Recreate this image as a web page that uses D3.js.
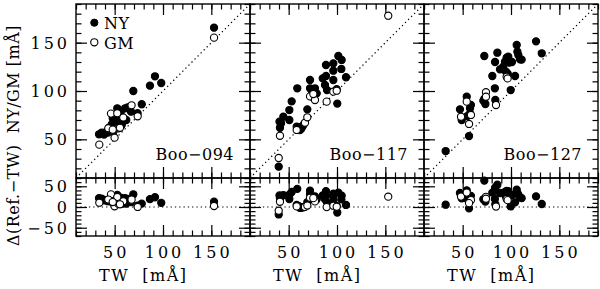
<html>
<script src='https://d3js.org/d3.v7.min.js'></script>
<style>
body {margin:0; background:#fff;}
text {font-family:'DejaVu Serif', serif; fill:#000;}
.num {font-size:16px; letter-spacing:3px;}
.lab {font-size:16px; letter-spacing:0.5px;}
.tw {font-size:16px; letter-spacing:1.5px;}
.tick line {stroke:#000; stroke-width:1.2;}
</style>
<body>
<svg width=600 height=289></svg>
<script>
// Boo-094
var tw094NY  = [33.8,36.5,39,41,43,45.2,48.6,52.7,48,50.3,53.8,55.5,57.3,60.7,63.4,56.2,69.3,66.9,78,73.7,86.5,91.7,98.2,52.1,47.1,44,58,62,152.8];
var ref094NY = [55.2,56.9,55,57.6,57,59,58,82.1,71.7,66.6,70,75.2,64.8,82.1,83,78.6,100,78.6,86.3,77,105.5,115.2,108.3,63.1,65.8,62,68,70,165.5];
var tw094GM  = [34.1,49.9,46.2,67.5,73.8,58.9,43.4,53.8,55.5,52.7,48,152.8];
var ref094GM = [44.5,51.7,76.6,85.2,73.9,72.6,61.4,61.4,62,77,60,155.2];
// Boo-117
var tw117NY  = [39.7,41,42.1,40.5,44.5,50.7,53.1,58.9,50.7,58.3,60.5,63,64.5,66,61.5,69.3,72.1,72.1,77.2,73.4,74,79,85.2,88.6,88.6,87.6,89.7,96.2,96.2,96.2,99.7,100.3,101.4,104.8,104.5,109.3];
var ref117NY = [21.7,62,66.6,68.3,73.4,80.3,89.3,102.8,70,63.1,62.5,61,63.5,66,59.5,81,111.4,102.8,102.8,94.4,96.5,97.6,113.1,126.9,115.5,106.2,101,128.6,121,111.4,101.8,87,136.2,132.1,122.8,114.2];
var tw117GM  = [39.7,41,58.3,66.9,69.3,72.1,77.2,75.5,89.3,96.2,99.7,153];
var ref117GM = [30.7,53.7,59.7,67.2,72.8,94.4,90.7,96.9,89,99.3,100.3,177.9];
// Boo-127
var tw127NY  = [32.4,56.6,47.2,49,54.2,57.6,58.5,57.6,54.8,72.4,71.4,73.5,72.5,80.7,83.5,85.9,83.3,83.8,88.6,92,93.8,95.5,97.2,98.2,94.8,96.6,99.7,104.2,101,105.9,106.6,107.6,109.3,111,125.9,131.8];
var ref127NY = [37.9,53.4,81,70,94.1,82.1,85.5,76.9,74.1,136.2,90,86.5,92,115.5,130,139.6,102.8,90.7,122.4,125.1,130.3,134.5,135.5,129.3,120,118,101,115.5,130,147.6,140.7,137.2,132.8,132.4,151.4,139];
var tw127GM  = [48.3,54.2,58.6,56.6,74.1,74.1,84.5,95.5,96.5];
var ref127GM = [73.4,89,75.2,65.9,98.7,94.1,85.5,114.8,113];

var stars = ['Boo\u2212094','Boo\u2212117','Boo\u2212127'];
var xTicks = [50,100,150];
var yTicks = [50,100,150];
var dTicks = [-50,0,50];

var panels = [
  {name:stars[0], ny:[tw094NY,ref094NY], gm:[tw094GM,ref094GM]},
  {name:stars[1], ny:[tw117NY,ref117NY], gm:[tw117GM,ref117GM]},
  {name:stars[2], ny:[tw127NY,ref127NY], gm:[tw127GM,ref127GM]}
];

var W = 174, top0 = 4, top1 = 178, bot1 = 236;
var x0s = [76,250,424];

var xs = d3.scaleLinear().domain([10,190]).range([0,W]);
var ys = d3.scaleLinear().domain([10,190]).range([top1,top0]);
var ds = d3.scaleLinear().domain([-70,70]).range([bot1,top1]);

var svg = d3.select('svg');

function ticks(g, axisFn, scale, major, minor, at) {
  g.append('g').attr('transform',at).call(axisFn(scale).tickValues(minor).tickSize(5.5).tickFormat(''))
   .call(function(s){s.select('.domain').remove();});
  g.append('g').attr('transform',at).call(axisFn(scale).tickValues(major).tickSize(11).tickFormat(''))
   .call(function(s){s.select('.domain').remove();});
}

function pts(p){ return p[0].map(function(t,i){return {tw:t, ref:p[1][i]};}); }

panels.forEach(function(p,k){
  var g = svg.append('g').attr('transform','translate('+x0s[k]+',0)');
  var xMin = d3.range(10,191,10);

  // top panel ticks
  ticks(g, d3.axisBottom, xs, xTicks, xMin, 'translate(0,'+top0+')');
  ticks(g, d3.axisTop, xs, xTicks, xMin, 'translate(0,'+top1+')');
  ticks(g, d3.axisRight, ys, yTicks, xMin, 'translate(0,0)');
  ticks(g, d3.axisLeft, ys, yTicks, xMin, 'translate('+W+',0)');
  // bottom panel ticks
  var dMin = d3.range(-70,71,10);
  ticks(g, d3.axisTop, xs, xTicks, xMin, 'translate(0,'+bot1+')');
  ticks(g, d3.axisBottom, xs, xTicks, xMin, 'translate(0,'+top1+')');
  ticks(g, d3.axisRight, ds, dTicks, dMin, 'translate(0,0)');
  ticks(g, d3.axisLeft, ds, dTicks, dMin, 'translate('+W+',0)');

  // reference lines
  g.append('line').attr('x1',xs(10)).attr('y1',ys(10)).attr('x2',xs(190)).attr('y2',ys(190))
   .attr('stroke','#000').attr('stroke-width',1.2).attr('stroke-dasharray','1.3,3');
  g.append('line').attr('x1',0).attr('x2',W).attr('y1',ds(0)).attr('y2',ds(0))
   .attr('stroke','#000').attr('stroke-width',1.2).attr('stroke-dasharray','1.3,3');

  var ny = pts(p.ny), gm = pts(p.gm);
  [[ny,'#000'],[gm,'#fff']].forEach(function(s){
    g.append('g').selectAll('circle').data(s[0]).enter().append('circle')
     .attr('cx',function(d){return xs(d.tw);}).attr('cy',function(d){return ys(d.ref);})
     .attr('r',3.6).attr('fill',s[1]).attr('stroke','#000').attr('stroke-width',1.1);
    g.append('g').selectAll('circle').data(s[0]).enter().append('circle')
     .attr('cx',function(d){return xs(d.tw);}).attr('cy',function(d){return ds(d.ref-d.tw);})
     .attr('r',3.6).attr('fill',s[1]).attr('stroke','#000').attr('stroke-width',1.1);
  });

  // frames
  g.append('rect').attr('x',0).attr('y',top0).attr('width',W).attr('height',top1-top0)
   .attr('fill','none').attr('stroke','#000').attr('stroke-width',1.4);
  g.append('rect').attr('x',0).attr('y',top1).attr('width',W).attr('height',bot1-top1)
   .attr('fill','none').attr('stroke','#000').attr('stroke-width',1.4);

  g.append('text').attr('class','lab').attr('x',W-16).attr('y',160).attr('text-anchor','end').text(p.name);

  g.selectAll('.xl').data(xTicks).enter().append('text').attr('class','num')
   .attr('x',function(d){return xs(d)+1.5;}).attr('y',258).attr('text-anchor','middle').text(function(d){return d;});
  g.append('text').attr('class','tw').attr('x',23).attr('y',281).text('TW\u00a0\u00a0[m\u00c5]');
});

// left axis labels
svg.selectAll('.yl').data(yTicks).enter().append('text').attr('class','num')
 .attr('x',70).attr('y',function(d){return ys(d)+6;}).attr('text-anchor','end').text(function(d){return d;});
svg.selectAll('.dl').data(dTicks).enter().append('text').attr('class','num')
 .attr('x',70).attr('y',function(d){return ds(d)+6;}).attr('text-anchor','end')
 .text(function(d){return d<0 ? '\u2212'+(-d) : d;});
svg.append('text').attr('class','lab').attr('transform','translate(19,135.5) rotate(-90)')
 .attr('text-anchor','middle').text('\u0394(Ref.\u2212TW)\u00a0\u00a0NY/GM\u00a0[m\u00c5]');

// legend
var leg = svg.append('g').attr('transform','translate(76,0)');
leg.append('circle').attr('cx',18.3).attr('cy',22.7).attr('r',3.6).attr('fill','#000').attr('stroke','#000');
leg.append('circle').attr('cx',18.3).attr('cy',42.3).attr('r',3.6).attr('fill','#fff').attr('stroke','#000').attr('stroke-width',1.1);
leg.append('text').attr('class','lab').attr('x',28).attr('y',28.5).text('NY');
leg.append('text').attr('class','lab').attr('x',28).attr('y',48.5).text('GM');
</script>
</body>
</html>
